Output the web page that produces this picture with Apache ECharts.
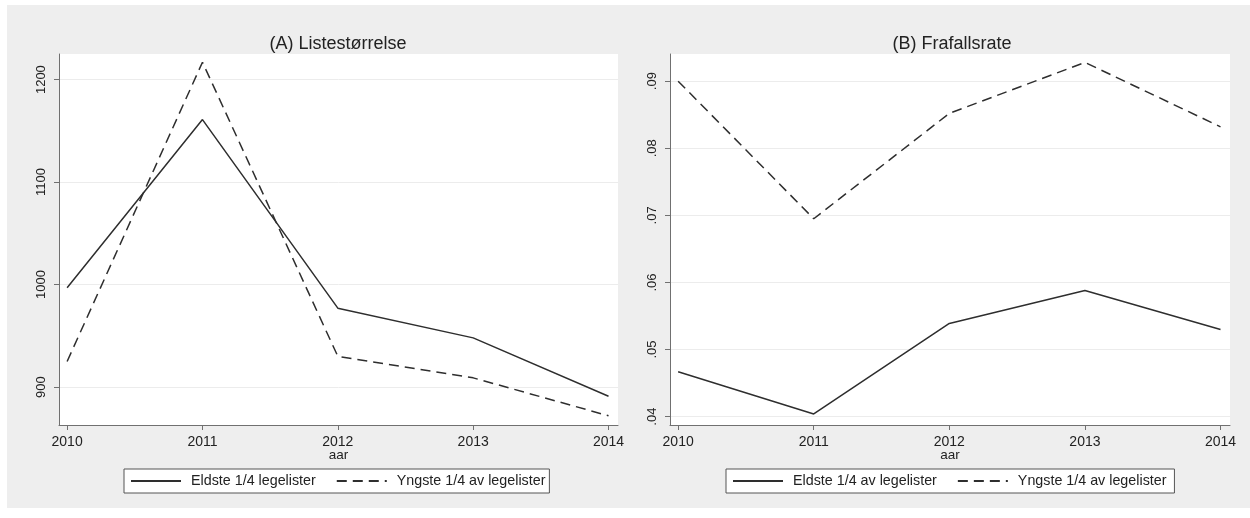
<!DOCTYPE html>
<html>
<head>
<meta charset="utf-8">
<script src="https://cdn.jsdelivr.net/npm/echarts@6/dist/echarts.min.js"></script>
<style>
  html, body { margin: 0; padding: 0; background: #ffffff; }
  #chart { width: 1250px; height: 518px; }
</style>
</head>
<body>
<div id="chart"></div>
<script>
// data
var years = [2010, 2011, 2012, 2013, 2014];
var listeEldste = [997, 1161, 977, 948, 891];
var listeYngste = [925, 1217, 930, 909, 872];
var frafallEldste = [0.0467, 0.0404, 0.0539, 0.0588, 0.0530];
var frafallYngste = [0.0900, 0.0695, 0.0852, 0.0928, 0.0832];
var ticksA = [900, 1000, 1100, 1200];
var ticksB = [0.04, 0.05, 0.06, 0.07, 0.08, 0.09];

var FONT = '"Liberation Sans", Arial, sans-serif';
var LINE = '#2e2e2e';
var AXIS = '#707070';
var GRIDLINE = '#ececec';

function pairs(vals) {
    return years.map(function (y, i) { return [y, vals[i]]; });
}

function xAxisFor(idx) {
    return {
        type: 'value',
        gridIndex: idx,
        min: 2009.94,
        max: 2014.07,
        name: 'aar',
        nameLocation: 'middle',
        nameGap: 23,
        nameMoveOverlap: false,
        nameTextStyle: {color: '#222', fontSize: 13.5, fontFamily: FONT},
        axisLine: {lineStyle: {color: AXIS, width: 1}},
        axisTick: {show: true, inside: false, length: 5, customValues: years, lineStyle: {color: AXIS}},
        axisLabel: {customValues: years, margin: 10, color: '#222', fontSize: 14, fontFamily: FONT,
            formatter: function (v) { return String(v); }},
        splitLine: {show: false}
    };
}

function yAxisFor(idx, min, max, ticks, fmt) {
    return {
        type: 'value',
        gridIndex: idx,
        min: min,
        max: max,
        axisLine: {show: true, lineStyle: {color: AXIS, width: 1}},
        axisTick: {show: true, inside: false, length: 5, customValues: ticks, lineStyle: {color: AXIS}},
        axisLabel: {customValues: ticks, rotate: 90, margin: 11, color: '#222', fontSize: 13, fontFamily: FONT, formatter: fmt},
        splitLine: {show: true, lineStyle: {color: GRIDLINE, width: 1}}
    };
}

function legendFor(left, names) {
    return {
        left: left,
        top: 469,
        data: names,
        orient: 'horizontal',
        itemWidth: 50,
        itemHeight: 14,
        itemGap: 20,
        padding: [5, 4, 5, 6],
        backgroundColor: '#ffffff',
        borderColor: '#555555',
        borderWidth: 1,
        borderRadius: 0,
        itemStyle: {opacity: 0},
        textStyle: {color: '#222', fontSize: 14.3, fontFamily: FONT, padding: [0, 0, 0, 5]}
    };
}

function lineSeries(name, xIdx, vals, dashed) {
    return {
        name: name,
        type: 'line',
        xAxisIndex: xIdx,
        yAxisIndex: xIdx,
        data: pairs(vals),
        symbol: 'none',
        animation: false,
        lineStyle: {color: LINE, width: 1.5, type: dashed ? [10, 6] : 'solid'},
        itemStyle: {color: LINE}
    };
}

var chart = echarts.init(document.getElementById('chart'), null, {renderer: 'canvas'});

var option = {
    animation: false,
    backgroundColor: '#ffffff',
    graphic: [
        {type: 'rect', z: -10, shape: {x: 7, y: 5, width: 1243, height: 503}, style: {fill: '#eeeeee'}, silent: true}
    ],
    title: [
        {text: '(A) Listestørrelse', left: 338, top: 35, padding: 0, textAlign: 'center',
            textStyle: {fontSize: 18, fontWeight: 'normal', color: '#222', fontFamily: FONT}},
        {text: '(B) Frafallsrate', left: 952, top: 35, padding: 0, textAlign: 'center',
            textStyle: {fontSize: 18, fontWeight: 'normal', color: '#222', fontFamily: FONT}}
    ],
    grid: [
        {left: 59, top: 54, width: 559, height: 371, show: true, backgroundColor: '#ffffff', borderWidth: 0},
        {left: 670, top: 54, width: 560, height: 371, show: true, backgroundColor: '#ffffff', borderWidth: 0}
    ],
    legend: [
        legendFor(124, ['Eldste 1/4 legelister', 'Yngste 1/4 av legelister']),
        legendFor(726, ['Eldste 1/4 av legelister', 'Yngste 1/4 av legelister '])
    ],
    xAxis: [xAxisFor(0), xAxisFor(1)],
    yAxis: [
        yAxisFor(0, 863, 1225, ticksA, function (v) { return String(v); }),
        yAxisFor(1, 0.03876, 0.09405, ticksB, function (v) { return v.toFixed(2).replace(/^0/, ''); })
    ],
    series: [
        lineSeries('Eldste 1/4 legelister', 0, listeEldste, false),
        lineSeries('Yngste 1/4 av legelister', 0, listeYngste, true),
        lineSeries('Eldste 1/4 av legelister', 1, frafallEldste, false),
        lineSeries('Yngste 1/4 av legelister ', 1, frafallYngste, true)
    ]
};

chart.setOption(option);
</script>
</body>
</html>
